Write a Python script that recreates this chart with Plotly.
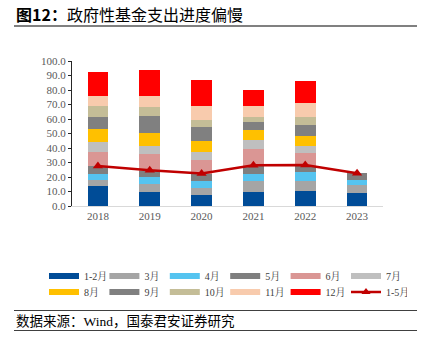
import plotly.graph_objects as go

years = ["2018", "2019", "2020", "2021", "2022", "2023"]
months = ["1-2月", "3月", "4月", "5月", "6月", "7月", "8月", "9月", "10月", "11月", "12月"]
m_1_2 = [13.8, 9.7, 7.8, 9.7, 10.1, 8.8]
m_3 = [4.4, 5.3, 4.6, 7.6, 7.1, 5.5]
m_4 = [3.9, 5.3, 4.8, 4.8, 6.0, 3.7]
m_5 = [5.5, 3.7, 5.1, 5.3, 4.6, 4.6]
m_6 = [9.4, 11.7, 9.4, 11.7, 8.8, None]
m_7 = [7.4, 6.0, 5.8, 6.7, 5.1, None]
m_8 = [8.5, 8.5, 7.4, 6.7, 6.7, None]
m_9 = [8.8, 12.0, 9.4, 5.1, 7.8, None]
m_10 = [7.1, 6.0, 5.3, 4.1, 5.5, None]
m_11 = [7.4, 7.8, 9.7, 7.1, 9.0, None]
m_12 = [15.9, 17.7, 17.5, 11.1, 15.4, None]
cum_1_5 = [27.6, 24.6, 22.5, 28.1, 28.3, 22.6]

series = [m_1_2, m_3, m_4, m_5, m_6, m_7, m_8, m_9, m_10, m_11, m_12]
colors = ["#004C97", "#A5A5A5", "#55C4F0", "#7F7F7F", "#DA9694", "#BFBFBF",
          "#FFC000", "#808080", "#C4BD97", "#F8CBAD", "#FF0000"]
line_color = "#C00000"

SERIF = "Liberation Serif, Noto Serif CJK SC, Noto Sans CJK SC"
fig = go.Figure()

for name, vals, col in zip(months, series, colors):
    fig.add_trace(go.Bar(x=years, y=vals, name=name, marker_color=col,
                         marker_line_width=0, width=0.4, showlegend=False))

fig.add_trace(go.Scatter(x=years, y=cum_1_5, name="1-5月", mode="lines+markers",
                         line=dict(color=line_color, width=2.5),
                         marker=dict(symbol="triangle-up", size=9, color=line_color),
                         showlegend=False))

# legend proxies
for i, (name, col) in enumerate(zip(months, colors)):
    fig.add_trace(go.Scatter(x=[None], y=[None], mode="lines", name=name,
                             line=dict(color=col, width=6),
                             legend="legend" if i < 6 else "legend2"))
fig.add_trace(go.Scatter(x=[None], y=[None], mode="lines+markers", name="1-5月",
                         line=dict(color=line_color, width=2.5),
                         marker=dict(symbol="triangle-up", size=8, color=line_color),
                         legend="legend2"))

W, H = 430, 351
L, R, T, B = 72, 47, 61, 145
pw, ph = W - L - R, H - T - B

def px_x(px):
    return (px - L) / pw

def px_y(py):
    return (H - B - py) / ph

legend_common = dict(orientation="h", xanchor="left", yanchor="middle",
                     font=dict(family=SERIF, size=10, color="#404040"),
                     entrywidth=15.4, entrywidthmode="pixels", traceorder="normal",
                     bgcolor="rgba(0,0,0,0)", itemwidth=30, tracegroupgap=0)

fig.update_layout(
    width=W, height=H,
    margin=dict(l=L, r=R, t=T, b=B),
    barmode="stack", bargap=0.6,
    plot_bgcolor="white", paper_bgcolor="white",
    legend=dict(x=px_x(44), y=px_y(276), **legend_common),
    legend2=dict(x=px_x(44), y=px_y(292), **legend_common),
    xaxis=dict(showline=True, linecolor="#D9D9D9", linewidth=1, ticks="",
               tickfont=dict(family=SERIF, size=11, color="#595959"),
               showgrid=False),
    yaxis=dict(range=[0, 100], dtick=10, tickformat=".1f", showgrid=False,
               showline=True, linecolor="#262626", linewidth=1,
               ticks="outside", ticklen=3, tickcolor="#262626",
               tickfont=dict(family=SERIF, size=11, color="#595959"),
               zeroline=False),
    shapes=[
        dict(type="line", xref="paper", yref="paper", x0=px_x(14), x1=px_x(417),
             y0=px_y(26), y1=px_y(26), line=dict(color="#808080", width=2)),
        dict(type="line", xref="paper", yref="paper", x0=px_x(14), x1=px_x(417),
             y0=px_y(310.5), y1=px_y(310.5), line=dict(color="#404040", width=1)),
        dict(type="line", xref="paper", yref="paper", x0=px_x(14), x1=px_x(417),
             y0=px_y(330.5), y1=px_y(330.5), line=dict(color="#404040", width=1)),
    ],
    annotations=[
        dict(text="<b>图12：</b>政府性基金支出进度偏慢", xref="paper", yref="paper",
             x=px_x(14), y=px_y(14), xanchor="left", yanchor="middle", showarrow=False,
             font=dict(family="Noto Sans CJK SC", size=16, color="#000000")),
        dict(text="数据来源：Wind，国泰君安证券研究", xref="paper", yref="paper",
             x=px_x(14), y=px_y(321), xanchor="left", yanchor="middle", showarrow=False,
             font=dict(family="Liberation Serif, Noto Sans CJK SC", size=13.5, color="#000000")),
    ],
)

fig.write_html("out.html")
